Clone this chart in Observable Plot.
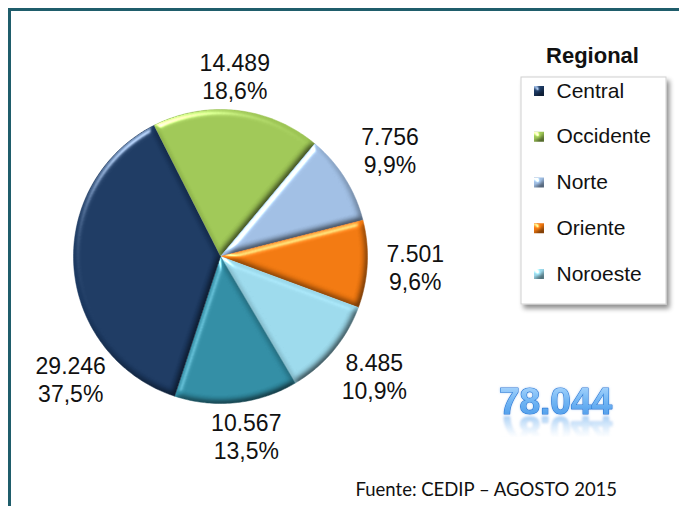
<!DOCTYPE html>
<html>
<head>
<meta charset="utf-8">
<script src="https://cdn.jsdelivr.net/npm/d3@7"></script>
<script src="https://cdn.jsdelivr.net/npm/@observablehq/plot@0.6"></script>
<style>
  html, body { margin: 0; padding: 0; background: #fff; overflow: hidden; }
  #chart svg { display: block; overflow: hidden; }
</style>
</head>
<body>
<div id="chart"></div>
<script>
// ---- data ----
const regiones = ["Occidente", "Norte", "Oriente", "Noroeste", "Otra", "Central"];
const valores = [14489, 7756, 7501, 8485, 10567, 29246];
const colores = ["#9cc454", "#9dbbe0", "#ee760e", "#99d6e8", "#2f8aa1", "#1b3860"];
const leyenda = ["Central", "Occidente", "Norte", "Oriente", "Noroeste"];
const tituloLeyenda = "Regional";
const fuente = "Fuente: CEDIP – AGOSTO 2015";

// ---- layout ----
const W = 679, H = 506;
const cx = 220, cy = 256, R = 147;
const start = -26.9 * Math.PI / 180;
// best-fit label placement tweaks (degrees)
const labelNudge = {Central: -35, Occidente: -2, Noroeste: -2, Otra: -2};

const loc = d3.formatLocale({decimal: ",", thousands: ".", grouping: [3], currency: ["", ""]});
const fmtN = loc.format(",");
const fmtP = loc.format(".1%");

const total = d3.sum(valores);
const arcs = d3.pie().sort(null).startAngle(start).endAngle(start + 2 * Math.PI)(valores);
const slices = arcs.map((a, i) => ({name: regiones[i], value: valores[i], a0: a.startAngle, a1: a.endAngle}));

const pts = slices.flatMap(s => {
  const n = Math.max(2, Math.ceil((s.a1 - s.a0) / (Math.PI / 180)));
  const out = [{name: s.name, x: cx, y: cy}];
  for (let k = 0; k <= n; ++k) {
    const a = s.a0 + (s.a1 - s.a0) * k / n;
    out.push({name: s.name, x: cx + R * Math.sin(a), y: cy - R * Math.cos(a)});
  }
  return out;
});

// label placement: outside the pie, offset by the text box extent
function labelPos(s) {
  const a = (s.a0 + s.a1) / 2 + (labelNudge[s.name] || 0) * Math.PI / 180;
  const hw = 36, hh = 22, pad = 12;
  const sn = Math.abs(Math.sin(a)), cs = Math.abs(Math.cos(a));
  const ext = Math.min(sn > 1e-6 ? hw / sn : 1e9, cs > 1e-6 ? hh / cs : 1e9);
  const d = R + pad + ext;
  return {x: cx + d * Math.sin(a), y: cy - d * Math.cos(a)};
}
const labels = slices.map(s => ({...s, ...labelPos(s)}));

const legendRows = leyenda.map((name, i) => ({name, i}));
const legX = 521, legY0 = 97, legStep = 45.75;

const plot = Plot.plot({
  width: W, height: H,
  margin: 0,
  x: {domain: [0, W], range: [0, W], axis: null},
  y: {domain: [0, H], range: [0, H], axis: null},
  color: {domain: regiones, range: colores},
  style: {background: "white"},
  marks: [
    // outer frame (left & top visible)
    Plot.rect([0], {x1: () => 9.5, x2: () => 720, y1: () => 9.5, y2: () => 560, fill: "none", stroke: "#1f5d6b", strokeWidth: 3}),
    // pie slices
    Plot.line(pts, {x: "x", y: "y", z: "name", fill: "name", stroke: "name", strokeWidth: 0.5, curve: "linear"}),
    // slice labels
    Plot.text(labels, {x: "x", y: "y", text: d => fmtN(d.value) + "\n" + fmtP(d.value / total),
      fontSize: 23, lineHeight: 1.22, fontFamily: "Liberation Sans, Arial, sans-serif", fill: "#111", textAnchor: "middle", lineAnchor: "middle"}),
    // legend box
    Plot.rect([0], {x1: () => legX, x2: () => 666, y1: () => 77, y2: () => 304, fill: "white", stroke: "#d0d0d0", strokeWidth: 1}),
    Plot.text([tituloLeyenda], {x: () => 592, y: () => 62, text: d => d, fontSize: 22, fontWeight: "bold",
      fontFamily: "Liberation Sans, Arial, sans-serif", fill: "#111", textAnchor: "middle", lineAnchor: "bottom"}),
    Plot.rect(legendRows, {x1: () => 534, x2: () => 544, y1: d => legY0 + d.i * legStep - 11, y2: d => legY0 + d.i * legStep - 1, fill: "name"}),
    Plot.text(legendRows, {x: () => 556, y: d => legY0 + d.i * legStep, text: "name", fontSize: 21,
      fontFamily: "Liberation Sans, Arial, sans-serif", fill: "#111", textAnchor: "start", lineAnchor: "bottom"}),
    // total
    Plot.text([total], {x: () => 555, y: () => 413, text: d => fmtN(d), fontSize: 37, fontWeight: "bold",
      fontFamily: "Liberation Sans, Arial, sans-serif", fill: "#5aa6f0", stroke: "#2a78d4", strokeWidth: 1.2, textAnchor: "middle", lineAnchor: "bottom"}),
    // source
    Plot.text([fuente], {x: () => 355, y: () => 495, text: d => d, fontSize: 18.5,
      fontFamily: "Lato, 'Open Sans', sans-serif", fill: "#111", textAnchor: "start", lineAnchor: "bottom"})
  ]
});

document.getElementById("chart").appendChild(plot);

// ---- styling post-process ----
const ty = 413;
const svg = d3.select(plot);
const defs = svg.insert("defs", ":first-child");
defs.html(`
  <filter id="bevel" x="-10%" y="-10%" width="120%" height="120%" color-interpolation-filters="sRGB">
    <feGaussianBlur in="SourceAlpha" stdDeviation="3" result="b"/>
    <feDiffuseLighting in="b" surfaceScale="2.5" diffuseConstant="1.27" lighting-color="#ffffff" result="d">
      <feDistantLight azimuth="235" elevation="52"/>
    </feDiffuseLighting>
    <feSpecularLighting in="b" surfaceScale="3" specularConstant="1" specularExponent="35" lighting-color="#ffffff" result="s">
      <feDistantLight azimuth="235" elevation="40"/>
    </feSpecularLighting>
    <feComposite in="s" in2="SourceAlpha" operator="in" result="si"/>
    <feComposite in="SourceGraphic" in2="d" operator="arithmetic" k1="1" k2="0" k3="0" k4="0" result="lit"/>
    <feComposite in="lit" in2="si" operator="arithmetic" k1="0" k2="1" k3="0.6" k4="0"/>
  </filter>
  <filter id="shadow" x="-10%" y="-10%" width="130%" height="130%">
    <feGaussianBlur in="SourceAlpha" stdDeviation="2.5"/>
    <feOffset dx="3" dy="4" result="o"/>
    <feComponentTransfer><feFuncA type="linear" slope="0.45"/></feComponentTransfer>
    <feMerge><feMergeNode/><feMergeNode in="SourceGraphic"/></feMerge>
  </filter>
  <filter id="glow" x="-10%" y="-20%" width="120%" height="140%">
    <feGaussianBlur in="SourceAlpha" stdDeviation="1.2" result="g"/>
    <feFlood flood-color="#9cc8f4" flood-opacity="0.7"/>
    <feComposite in2="g" operator="in" result="gc"/>
    <feMerge><feMergeNode in="gc"/><feMergeNode in="SourceGraphic"/></feMerge>
  </filter>
  <filter id="soft" x="-10%" y="-30%" width="120%" height="160%">
    <feGaussianBlur stdDeviation="1.3"/>
  </filter>
  <linearGradient id="totGrad" x1="0" y1="0" x2="0" y2="1">
    <stop offset="0" stop-color="#b8deff"/>
    <stop offset="0.5" stop-color="#72b6f4"/>
    <stop offset="1" stop-color="#4596e8"/>
  </linearGradient>
  <linearGradient id="fadeGrad" gradientUnits="userSpaceOnUse" x1="0" y1="${ty}" x2="0" y2="${ty + 24}">
    <stop offset="0" stop-color="#fff" stop-opacity="0.55"/>
    <stop offset="1" stop-color="#fff" stop-opacity="0"/>
  </linearGradient>
  <mask id="fadeMask" maskUnits="userSpaceOnUse" x="0" y="0" width="${W}" height="${H}">
    <rect x="460" y="${ty}" width="200" height="40" fill="url(#fadeGrad)"/>
  </mask>
`);

const groups = plot.querySelectorAll(":scope > g");
// groups order follows marks order
const gPie = groups[1], gLegBox = groups[3], gSw = groups[5], gTot = groups[7];
gPie.querySelectorAll("path").forEach(p => p.setAttribute("filter", "url(#bevel)"));
gSw.querySelectorAll("rect").forEach(p => p.setAttribute("filter", "url(#bevel)"));
gLegBox.setAttribute("filter", "url(#shadow)");

const t = gTot.querySelector("text");
t.setAttribute("id", "totalText");
t.setAttribute("fill", "url(#totGrad)");
t.setAttribute("filter", "url(#glow)");
t.style.paintOrder = "stroke";
// reflection of the total (a <use> of the same text, mirrored below its baseline, fading out)
const rg = document.createElementNS("http://www.w3.org/2000/svg", "g");
rg.setAttribute("mask", "url(#fadeMask)");
const use = document.createElementNS("http://www.w3.org/2000/svg", "use");
use.setAttribute("href", "#totalText");
use.setAttribute("transform", `translate(0, ${2 * ty + 3}) scale(1,-1)`);
use.setAttribute("filter", "url(#soft)");
rg.appendChild(use);
gTot.insertBefore(rg, t);
</script>
</body>
</html>
